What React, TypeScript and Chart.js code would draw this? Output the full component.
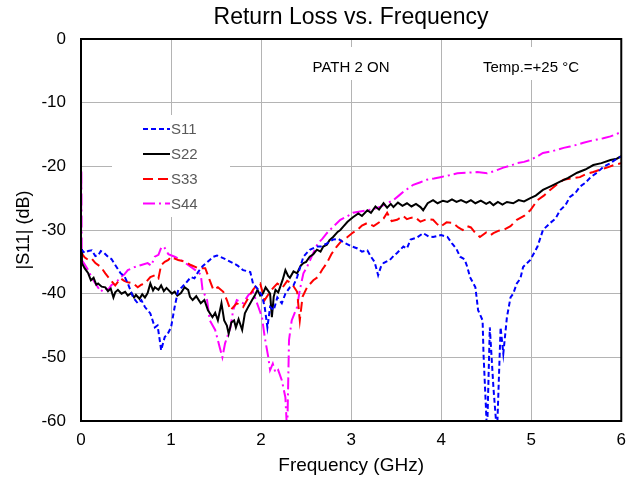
import React, { useEffect, useRef } from "react";
import { Chart, registerables } from "chart.js";

Chart.register(...registerables);

const TITLE = "Return Loss vs. Frequency";
const X_TITLE = "Frequency (GHz)";
const Y_TITLE = "|S11| (dB)";
const SERIES_NAMES = ["S11", "S22", "S33", "S44"];
const NOTE_PATH = "PATH 2 ON";
const NOTE_TEMP = "Temp.=+25 °C";

const S11_FREQ = [0.0, 0.04, 0.08, 0.12, 0.16, 0.19, 0.22, 0.25, 0.3, 0.34, 0.38, 0.44, 0.48, 0.52, 0.58, 0.63, 0.67, 0.71, 0.77, 0.82, 0.85, 0.88, 0.89, 0.93, 0.96, 1.0, 1.04, 1.08, 1.12, 1.16, 1.22, 1.26, 1.3, 1.35, 1.39, 1.43, 1.47, 1.51, 1.56, 1.62, 1.69, 1.74, 1.8, 1.88, 1.91, 1.97, 2.01, 2.04, 2.07, 2.1, 2.14, 2.18, 2.23, 2.27, 2.32, 2.36, 2.4, 2.47, 2.54, 2.62, 2.66, 2.72, 2.8, 2.86, 2.91, 3.01, 3.07, 3.12, 3.18, 3.22, 3.26, 3.3, 3.33, 3.36, 3.43, 3.47, 3.51, 3.58, 3.62, 3.66, 3.73, 3.8, 3.86, 3.91, 4.0, 4.07, 4.12, 4.17, 4.21, 4.26, 4.29, 4.32, 4.38, 4.41, 4.46, 4.47, 4.51, 4.54, 4.58, 4.62, 4.66, 4.69, 4.73, 4.77, 4.8, 4.84, 4.88, 4.91, 4.99, 5.07, 5.13, 5.21, 5.27, 5.32, 5.38, 5.43, 5.49, 5.54, 5.6, 5.66, 5.73, 5.8, 5.88, 5.96, 6.0];
const S11_DB = [-33.0, -33.6, -33.3, -33.2, -34.1, -34.0, -33.3, -33.5, -34.2, -34.6, -35.5, -36.8, -37.2, -38.4, -40.6, -41.5, -41.0, -42.1, -43.1, -45.3, -45.0, -47.8, -48.9, -46.8, -46.4, -45.3, -42.1, -39.4, -39.0, -38.4, -37.4, -37.6, -36.6, -35.7, -35.2, -34.7, -34.2, -34.0, -34.3, -34.7, -35.2, -35.6, -36.3, -36.6, -38.4, -39.4, -40.3, -42.1, -45.3, -42.1, -42.6, -40.6, -41.5, -40.0, -39.0, -38.7, -37.4, -34.2, -33.1, -32.6, -32.6, -32.2, -31.5, -31.4, -31.9, -32.6, -32.9, -33.4, -33.2, -34.2, -35.0, -37.1, -35.8, -35.2, -34.7, -34.1, -33.6, -32.6, -32.9, -31.5, -31.2, -30.5, -31.0, -31.1, -30.8, -31.1, -32.1, -33.0, -34.2, -34.6, -35.8, -37.4, -39.0, -42.6, -44.2, -49.4, -62.0, -45.3, -54.7, -62.0, -45.3, -49.4, -43.7, -40.6, -40.0, -38.4, -37.6, -35.8, -34.7, -32.6, -30.0, -28.9, -28.2, -26.9, -26.1, -24.8, -24.2, -23.2, -22.6, -21.7, -21.0, -20.1, -19.5, -18.7, -18.5];

const S22_FREQ = [0.0, 0.01, 0.04, 0.08, 0.11, 0.14, 0.17, 0.19, 0.23, 0.27, 0.3, 0.33, 0.36, 0.38, 0.41, 0.45, 0.49, 0.52, 0.56, 0.59, 0.61, 0.65, 0.68, 0.71, 0.74, 0.77, 0.8, 0.82, 0.86, 0.89, 0.92, 0.95, 0.97, 1.01, 1.04, 1.07, 1.11, 1.15, 1.19, 1.21, 1.24, 1.28, 1.33, 1.37, 1.41, 1.46, 1.49, 1.52, 1.56, 1.59, 1.62, 1.64, 1.67, 1.7, 1.72, 1.75, 1.79, 1.82, 1.86, 1.9, 1.93, 1.96, 1.99, 2.02, 2.05, 2.07, 2.1, 2.12, 2.14, 2.16, 2.19, 2.21, 2.24, 2.27, 2.3, 2.32, 2.36, 2.4, 2.44, 2.47, 2.5, 2.54, 2.58, 2.62, 2.66, 2.69, 2.73, 2.76, 2.8, 2.85, 2.88, 2.91, 2.96, 3.02, 3.08, 3.12, 3.18, 3.22, 3.27, 3.31, 3.36, 3.4, 3.44, 3.47, 3.52, 3.57, 3.62, 3.67, 3.72, 3.77, 3.8, 3.85, 3.91, 3.96, 4.02, 4.07, 4.12, 4.17, 4.22, 4.28, 4.33, 4.38, 4.44, 4.5, 4.54, 4.58, 4.63, 4.68, 4.73, 4.8, 4.86, 4.92, 4.99, 5.05, 5.13, 5.22, 5.32, 5.41, 5.51, 5.6, 5.69, 5.78, 5.88, 5.95, 6.0];
const S22_DB = [-33.0, -35.2, -36.0, -36.8, -37.9, -37.5, -38.6, -38.4, -38.9, -39.0, -39.6, -39.2, -40.6, -39.8, -39.4, -40.0, -39.7, -40.3, -39.9, -40.6, -40.2, -40.8, -40.1, -40.6, -39.9, -38.4, -39.5, -39.0, -39.4, -38.7, -39.6, -39.1, -39.4, -40.0, -39.7, -40.3, -39.9, -39.0, -39.4, -40.5, -41.0, -40.4, -41.5, -41.0, -42.6, -43.7, -43.0, -44.2, -41.5, -44.2, -45.0, -46.3, -44.5, -44.2, -45.3, -44.0, -45.7, -43.1, -42.0, -41.0, -40.3, -39.4, -40.3, -40.0, -39.0, -39.4, -40.0, -43.7, -40.5, -39.4, -39.8, -39.0, -37.8, -36.3, -37.2, -37.5, -36.5, -36.8, -35.6, -35.2, -35.0, -34.2, -33.8, -33.1, -33.4, -32.6, -32.3, -31.6, -31.1, -30.3, -30.0, -29.5, -28.7, -28.0, -27.4, -27.8, -26.9, -27.3, -26.3, -26.8, -25.8, -26.5, -25.9, -26.4, -25.7, -26.2, -25.8, -26.3, -25.9, -26.4, -26.9, -25.8, -25.3, -25.8, -25.4, -25.6, -25.2, -25.6, -25.3, -25.7, -25.3, -25.8, -25.4, -25.9, -25.6, -26.1, -25.6, -26.0, -25.6, -25.8, -25.3, -25.5, -25.0, -24.6, -23.7, -23.1, -22.4, -21.8, -21.0, -20.5, -19.8, -19.5, -19.0, -18.8, -18.4];

const S33_FREQ = [0.0, 0.04, 0.08, 0.12, 0.16, 0.22, 0.27, 0.33, 0.38, 0.44, 0.48, 0.52, 0.58, 0.63, 0.67, 0.71, 0.77, 0.82, 0.86, 0.89, 0.93, 0.97, 1.0, 1.04, 1.08, 1.16, 1.22, 1.3, 1.38, 1.43, 1.47, 1.52, 1.58, 1.62, 1.66, 1.73, 1.8, 1.86, 1.91, 1.95, 1.99, 2.04, 2.1, 2.14, 2.18, 2.24, 2.29, 2.34, 2.4, 2.43, 2.46, 2.51, 2.58, 2.63, 2.68, 2.73, 2.78, 2.84, 2.9, 2.96, 3.02, 3.07, 3.12, 3.18, 3.25, 3.32, 3.36, 3.4, 3.45, 3.51, 3.58, 3.62, 3.66, 3.71, 3.77, 3.84, 3.91, 3.95, 3.99, 4.06, 4.13, 4.19, 4.24, 4.29, 4.33, 4.38, 4.43, 4.5, 4.55, 4.58, 4.64, 4.69, 4.77, 4.84, 4.92, 4.99, 5.07, 5.14, 5.21, 5.29, 5.36, 5.45, 5.54, 5.61, 5.69, 5.77, 5.84, 5.92, 6.0];
const S33_DB = [-33.5, -34.3, -34.7, -34.5, -35.2, -35.8, -36.8, -37.9, -38.7, -37.6, -38.0, -38.2, -38.4, -39.0, -38.6, -38.4, -37.4, -37.1, -37.6, -35.5, -35.0, -34.7, -34.2, -34.5, -34.7, -35.0, -35.5, -36.0, -36.0, -37.9, -39.4, -39.0, -39.7, -41.0, -42.6, -41.5, -42.1, -40.6, -39.4, -38.7, -38.4, -41.0, -39.7, -39.0, -38.4, -39.0, -38.0, -38.4, -39.7, -44.2, -40.5, -39.0, -37.9, -37.4, -36.2, -35.2, -33.8, -32.6, -31.6, -31.1, -30.4, -30.0, -29.3, -28.9, -29.4, -28.7, -28.2, -27.3, -28.6, -28.4, -27.8, -28.3, -28.1, -28.0, -28.7, -28.3, -28.4, -29.0, -29.5, -28.8, -28.9, -29.6, -30.0, -29.4, -29.6, -30.5, -31.1, -30.4, -30.8, -30.5, -30.1, -30.0, -29.4, -28.4, -27.8, -26.9, -25.3, -24.6, -23.7, -22.8, -22.1, -21.9, -21.7, -21.2, -20.9, -20.5, -20.2, -19.8, -19.5];

const S44_FREQ = [0.0, 0.004, 0.008, 0.04, 0.08, 0.12, 0.16, 0.22, 0.26, 0.3, 0.34, 0.38, 0.44, 0.48, 0.52, 0.6, 0.67, 0.74, 0.78, 0.82, 0.86, 0.89, 0.92, 0.97, 1.04, 1.11, 1.19, 1.27, 1.33, 1.35, 1.4, 1.43, 1.49, 1.54, 1.57, 1.6, 1.66, 1.69, 1.73, 1.8, 1.86, 1.91, 1.97, 2.01, 2.04, 2.08, 2.1, 2.13, 2.16, 2.19, 2.23, 2.27, 2.29, 2.3, 2.31, 2.34, 2.4, 2.43, 2.47, 2.51, 2.58, 2.63, 2.68, 2.73, 2.8, 2.88, 2.95, 3.02, 3.1, 3.18, 3.25, 3.32, 3.4, 3.47, 3.53, 3.58, 3.64, 3.69, 3.77, 3.84, 3.92, 3.99, 4.09, 4.18, 4.3, 4.4, 4.51, 4.6, 4.69, 4.77, 4.84, 4.92, 4.99, 5.06, 5.13, 5.21, 5.29, 5.36, 5.43, 5.51, 5.58, 5.66, 5.73, 5.8, 5.88, 5.95, 6.0];
const S44_DB = [-34.0, -20.5, -34.7, -35.4, -36.3, -37.5, -38.4, -39.7, -39.1, -39.4, -38.6, -38.4, -37.4, -37.0, -36.3, -35.8, -35.5, -35.2, -35.6, -34.2, -33.9, -32.8, -32.6, -33.8, -34.2, -34.7, -35.5, -36.3, -37.0, -39.4, -41.0, -44.2, -45.7, -48.4, -50.0, -47.8, -45.3, -42.6, -41.0, -41.5, -40.2, -39.7, -42.1, -43.7, -46.8, -50.0, -52.0, -51.0, -52.4, -52.0, -53.6, -56.3, -62.0, -54.7, -47.3, -44.2, -42.1, -39.4, -36.8, -35.8, -33.6, -32.1, -31.4, -30.5, -29.5, -28.4, -27.9, -27.3, -27.1, -26.9, -26.7, -26.4, -25.8, -25.3, -24.6, -24.0, -23.4, -22.9, -22.5, -22.1, -21.9, -21.7, -21.4, -21.1, -21.0, -20.9, -21.1, -20.7, -20.2, -19.9, -19.5, -19.3, -19.0, -18.5, -17.9, -17.7, -17.4, -17.1, -16.9, -16.6, -16.3, -16.0, -15.8, -15.6, -15.3, -14.9, -14.6];

const X_MIN = 0;
const X_MAX = 6;
const Y_MIN = -60;
const Y_MAX = 0;

const COLORS = ["#0000FF", "#000000", "#FF0000", "#FF00FF"];
const DASHES: number[][] = [[5, 3], [], [10, 5], [12, 4, 2, 4]];

const FONT = "'Liberation Sans', Arial, sans-serif";

const toPts = (fs: number[], vs: number[]) => fs.map((f, i) => ({ x: f, y: vs[i] }));

const overlayPlugin = {
  id: "overlay",
  beforeDatasetsDraw(chart: any) {
    const ctx = chart.ctx;
    ctx.save();
    ctx.fillStyle = "#FFFFFF";
    ctx.fillRect(112, 115, 118, 102);
    ctx.fillRect(300, 47, 105, 33);
    ctx.fillRect(468, 47, 126, 33);
    ctx.fillStyle = "#000000";
    ctx.font = `15px ${FONT}`;
    ctx.textBaseline = "middle";
    ctx.textAlign = "center";
    ctx.fillText(NOTE_PATH, 351, 68);
    ctx.fillText(NOTE_TEMP, 531, 68);
    const ys = [129, 154, 179, 203.5];
    ctx.textAlign = "left";
    SERIES_NAMES.forEach((n, i) => {
      ctx.beginPath();
      ctx.strokeStyle = COLORS[i];
      ctx.lineWidth = 2;
      ctx.setLineDash(DASHES[i]);
      ctx.moveTo(143, ys[i]);
      ctx.lineTo(170, ys[i]);
      ctx.stroke();
      ctx.setLineDash([]);
      ctx.fillStyle = "#595959";
      ctx.fillText(n, 171, ys[i] + 1);
    });
    ctx.restore();
  },
  afterDatasetsDraw(chart: any) {
    const ctx = chart.ctx;
    const { left, top, right, bottom } = chart.chartArea;
    ctx.save();
    ctx.strokeStyle = "#000000";
    ctx.lineWidth = 2;
    ctx.strokeRect(left, top, right - left, bottom - top);
    ctx.restore();
  },
  afterDraw(chart: any) {
    const ctx = chart.ctx;
    ctx.save();
    ctx.fillStyle = "#000000";
    ctx.font = `23px ${FONT}`;
    ctx.textAlign = "center";
    ctx.textBaseline = "middle";
    ctx.fillText(TITLE, 351, 18);
    ctx.restore();
  },
};

export default function App() {
  const ref = useRef<HTMLCanvasElement | null>(null);
  useEffect(() => {
    document.body.style.margin = "0";
    const canvas = ref.current;
    if (!canvas) return;
    const series = [
      toPts(S11_FREQ, S11_DB),
      toPts(S22_FREQ, S22_DB),
      toPts(S33_FREQ, S33_DB),
      toPts(S44_FREQ, S44_DB),
    ];
    const chart = new Chart(canvas, {
      type: "line",
      data: {
        datasets: series.map((d, i) => ({
          label: SERIES_NAMES[i],
          data: d,
          borderColor: COLORS[i],
          backgroundColor: COLORS[i],
          borderWidth: 2,
          borderDash: DASHES[i],
          pointRadius: 0,
          tension: 0,
          fill: false,
        })),
      },
      options: {
        animation: false,
        responsive: false,
        devicePixelRatio: 1,
        layout: { padding: { top: 39, right: 13, bottom: 0, left: 0 } },
        plugins: {
          legend: { display: false },
          title: { display: false },
          tooltip: { enabled: false },
        },
        scales: {
          x: {
            type: "linear",
            min: X_MIN,
            max: X_MAX,
            ticks: {
              stepSize: 1,
              color: "#000",
              font: { family: FONT, size: 17 },
              padding: 9,
            },
            grid: { color: "#B4B4B4", lineWidth: 1, drawTicks: false },
            border: { display: true, color: "#000", width: 2 },
            title: {
              display: true,
              text: X_TITLE,
              color: "#000",
              font: { family: FONT, size: 19 },
              padding: { top: 0, bottom: 2 },
            },
            afterFit: (s: any) => {
              s.height = 58;
            },
          },
          y: {
            type: "linear",
            min: Y_MIN,
            max: Y_MAX,
            ticks: {
              stepSize: 10,
              color: "#000",
              font: { family: FONT, size: 17 },
              padding: 15,
            },
            grid: { color: "#B4B4B4", lineWidth: 1, drawTicks: false },
            border: { display: true, color: "#000", width: 2 },
            title: {
              display: true,
              text: Y_TITLE,
              color: "#000",
              font: { family: FONT, size: 18 },
              padding: { top: 13, bottom: 0 },
            },
            afterFit: (s: any) => {
              s.width = 81;
            },
          },
        },
      },
      plugins: [overlayPlugin],
    });
    return () => chart.destroy();
  }, []);
  return (
    <canvas
      ref={ref}
      width={635}
      height={479}
      style={{ width: 635, height: 479, display: "block" }}
    />
  );
}
